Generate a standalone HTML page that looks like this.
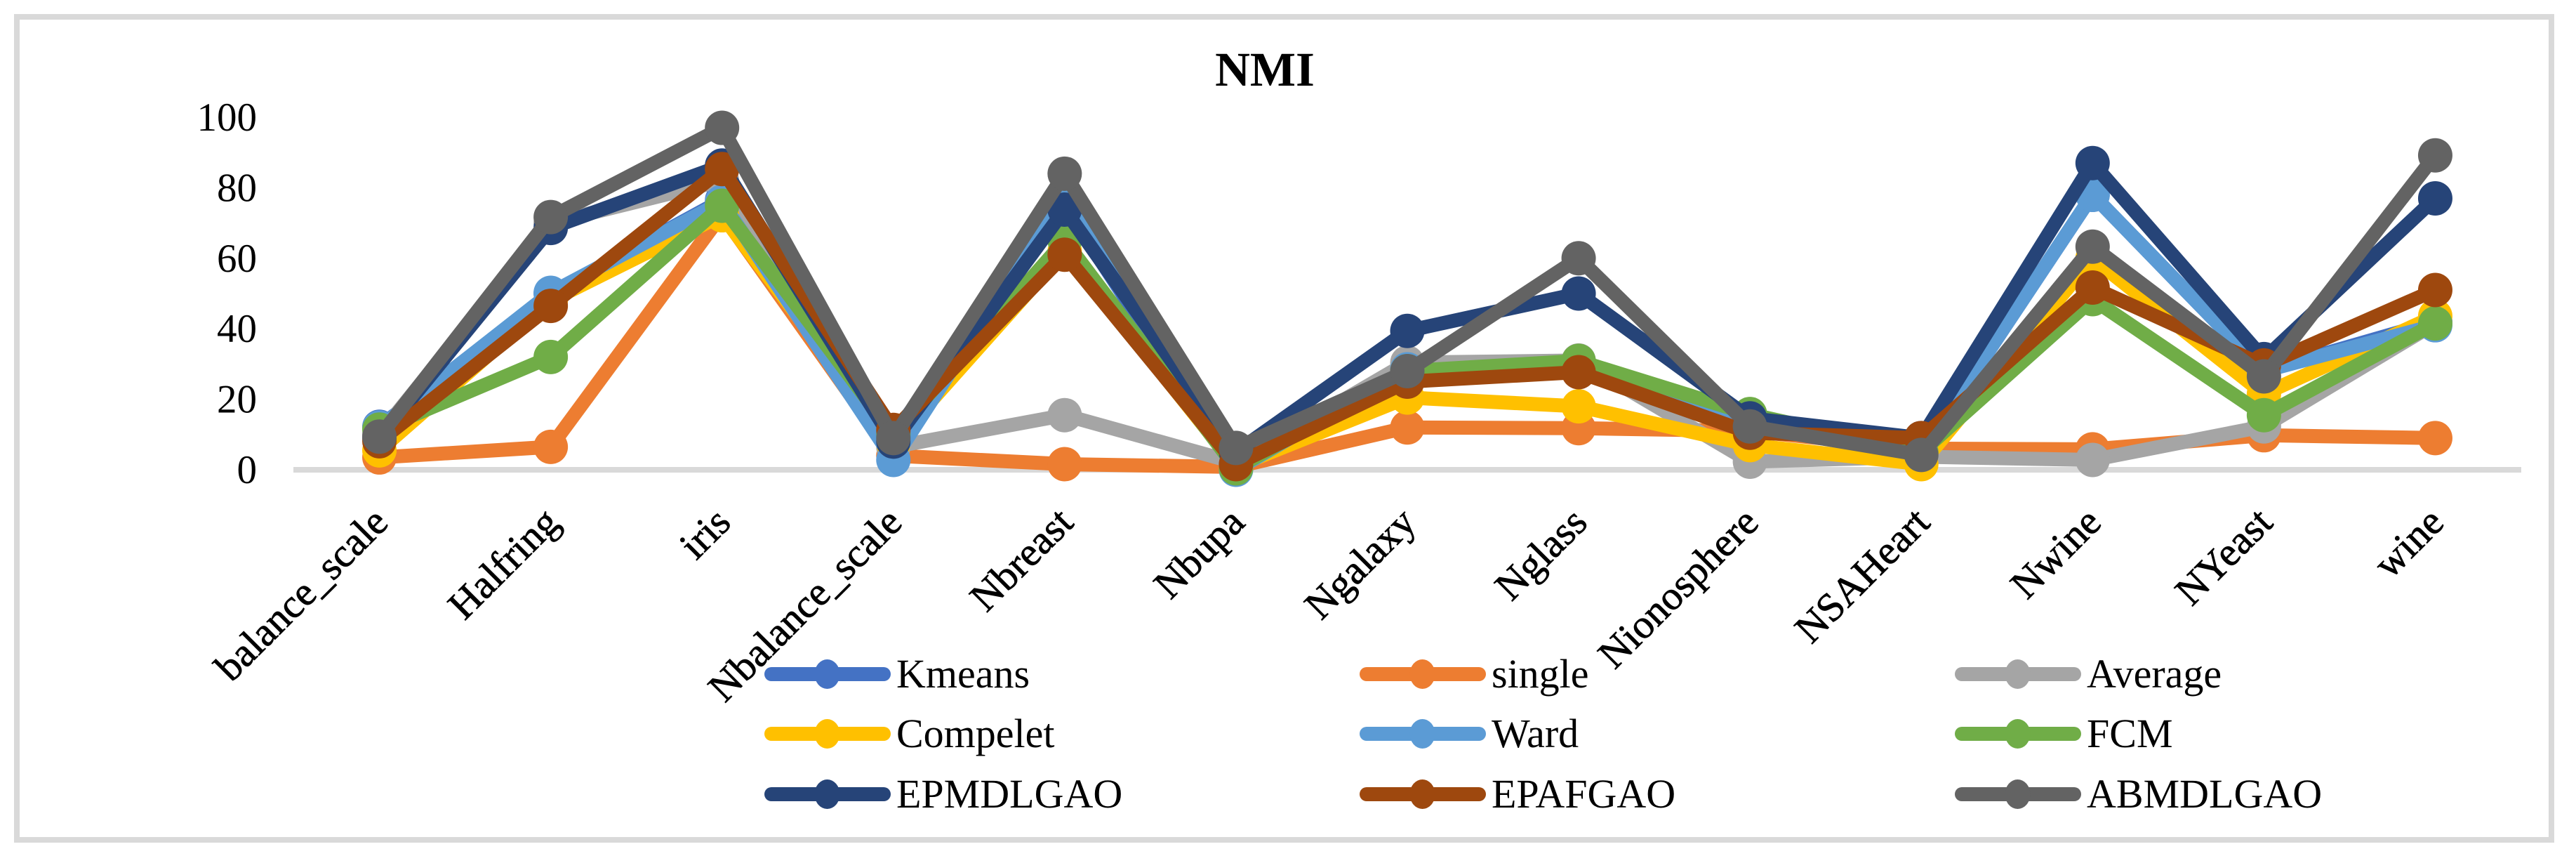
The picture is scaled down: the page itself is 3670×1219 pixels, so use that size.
<!DOCTYPE html>
<html lang="en">
<head>
<meta charset="utf-8">
<title>NMI</title>
<style>
html,body{margin:0;padding:0;background:#fff;}
svg{display:block;}
text{font-family:"Liberation Serif",serif;fill:#000;}
</style>
</head>
<body>
<svg id="chart" xmlns="http://www.w3.org/2000/svg" width="3670" height="1219" viewBox="0 0 3670 1219">
  <rect x="0" y="0" width="3670" height="1219" fill="#ffffff"/>
  <rect x="24" y="24" width="3611" height="1172" fill="#ffffff" stroke="#d9d9d9" stroke-width="8"/>
  <text x="1802" y="122" font-size="69" font-weight="bold" text-anchor="middle">NMI</text>
  <g id="y-ticks"></g>
  <rect x="418" y="665" width="3174" height="8" fill="#d9d9d9"/>
  <g id="x-ticks"></g>
  <g id="series"></g>
  <g id="legend"></g>
</svg>
<script>
const categories = ["balance_scale","Halfring","iris","Nbalance_scale","Nbreast","Nbupa","Ngalaxy","Nglass","Nionosphere","NSAHeart","Nwine","NYeast","wine"];
const yTicks = [0,20,40,60,80,100];
const seriesNames = ["Kmeans","single","Average","Compelet","Ward","FCM","EPMDLGAO","EPAFGAO","ABMDLGAO"];
const seriesColors = ["#4472C4","#ED7D31","#A5A5A5","#FFC000","#5B9BD5","#70AD47","#264478","#9E480E","#636363"];
const kmeans   = [12.2,50,76.5,10,75,0.5,28.5,28,12,5,78,28,42];
const single   = [3.5,6.5,72.5,4,1.6,0.8,12,11.8,11,6,5.8,9.8,9];
const average  = [10,70,82,6.5,15.5,2,30.4,31,2.3,3.7,2.8,12.3,41.5];
const compelet = [5.5,48,72.2,7.5,62,1,20.5,18,7,1.6,60,21.5,43.6];
const ward     = [12,50.2,76,2.8,78,0,28.5,28,12,5,78,28,41];
const fcm      = [11.4,32,74.9,10,65,0.4,28,30.9,15.8,5,48.4,15.5,41.5];
const epmdlgao = [9,68.6,86.3,8,73.8,5,39.4,50,14.6,9,87,31.4,77];
const epafgao  = [8.1,46.5,85.3,11.3,61,1.6,25,27.7,10.5,9,51.7,29.6,51];
const abmdlgao = [9.4,71.7,97,9,84,6.2,28,60,12.3,4.2,63.3,26.5,89.2];
const seriesValues = [kmeans,single,average,compelet,ward,fcm,epmdlgao,epafgao,abmdlgao];

const SVGNS = "http://www.w3.org/2000/svg";
const plotLeft = 418.5, plotRight = 3591.5, yZero = 669, yTop = 167;
function xScale(i){ return plotLeft + (i + 0.5) * (plotRight - plotLeft) / categories.length; }
function yScale(v){ return yZero + (yTop - yZero) * v / 100; }

const yGroup = document.getElementById("y-ticks");
yTicks.forEach(function(t){
  const el = document.createElementNS(SVGNS,"text");
  el.setAttribute("x", 366);
  el.setAttribute("y", yScale(t) + 19);
  el.setAttribute("font-size", 57);
  el.setAttribute("text-anchor", "end");
  
  
  el.textContent = t;
  yGroup.appendChild(el);
});

const xGroup = document.getElementById("x-ticks");
categories.forEach(function(c,i){
  const el = document.createElementNS(SVGNS,"text");
  const ax = xScale(i) + 15, ay = 747;
  el.setAttribute("x", ax);
  el.setAttribute("y", ay);
  el.setAttribute("font-size", 57.5);
  el.setAttribute("text-anchor", "end");
  el.setAttribute("stroke", "#000");
  el.setAttribute("stroke-width", "0.8");
  el.setAttribute("transform", "rotate(-45 " + ax + " " + ay + ")");
  
  
  el.textContent = c;
  xGroup.appendChild(el);
});

const sGroup = document.getElementById("series");
seriesValues.forEach(function(vals,s){
  const g = document.createElementNS(SVGNS,"g");
  
  
  const line = document.createElementNS(SVGNS,"polyline");
  line.setAttribute("points", vals.map(function(v,i){ return xScale(i) + "," + yScale(v); }).join(" "));
  line.setAttribute("fill", "none");
  line.setAttribute("stroke", seriesColors[s]);
  line.setAttribute("stroke-width", 20);
  line.setAttribute("stroke-linejoin", "round");
  
  
  g.appendChild(line);
  vals.forEach(function(v,i){
    const pt = document.createElementNS(SVGNS,"circle");
    pt.setAttribute("cx", xScale(i));
    pt.setAttribute("cy", yScale(v));
    pt.setAttribute("r", 24.5);
    pt.setAttribute("fill", seriesColors[s]);
    
    
    g.appendChild(pt);
  });
  sGroup.appendChild(g);
});

const legendCols = [1089,1937,2785];
const legendRows = [960,1045,1131];
const lGroup = document.getElementById("legend");
seriesNames.forEach(function(n,s){
  const x0 = legendCols[s % 3], y0 = legendRows[Math.floor(s / 3)];
  const g = document.createElementNS(SVGNS,"g");
  
  
  const ln = document.createElementNS(SVGNS,"line");
  ln.setAttribute("x1", x0 + 10);
  ln.setAttribute("x2", x0 + 170);
  ln.setAttribute("y1", y0);
  ln.setAttribute("y2", y0);
  ln.setAttribute("stroke", seriesColors[s]);
  ln.setAttribute("stroke-width", 20);
  ln.setAttribute("stroke-linecap", "round");
  
  
  g.appendChild(ln);
  const c = document.createElementNS(SVGNS,"ellipse");
  c.setAttribute("cx", x0 + 89.5);
  c.setAttribute("cy", y0);
  c.setAttribute("rx", 18);
  c.setAttribute("ry", 21);
  c.setAttribute("fill", seriesColors[s]);
  
  
  g.appendChild(c);
  const t = document.createElementNS(SVGNS,"text");
  t.setAttribute("x", x0 + 188);
  t.setAttribute("y", y0 + 19);
  t.setAttribute("font-size", 58);
  
  
  t.textContent = n;
  g.appendChild(t);
  lGroup.appendChild(g);
});
</script>
</body>
</html>
